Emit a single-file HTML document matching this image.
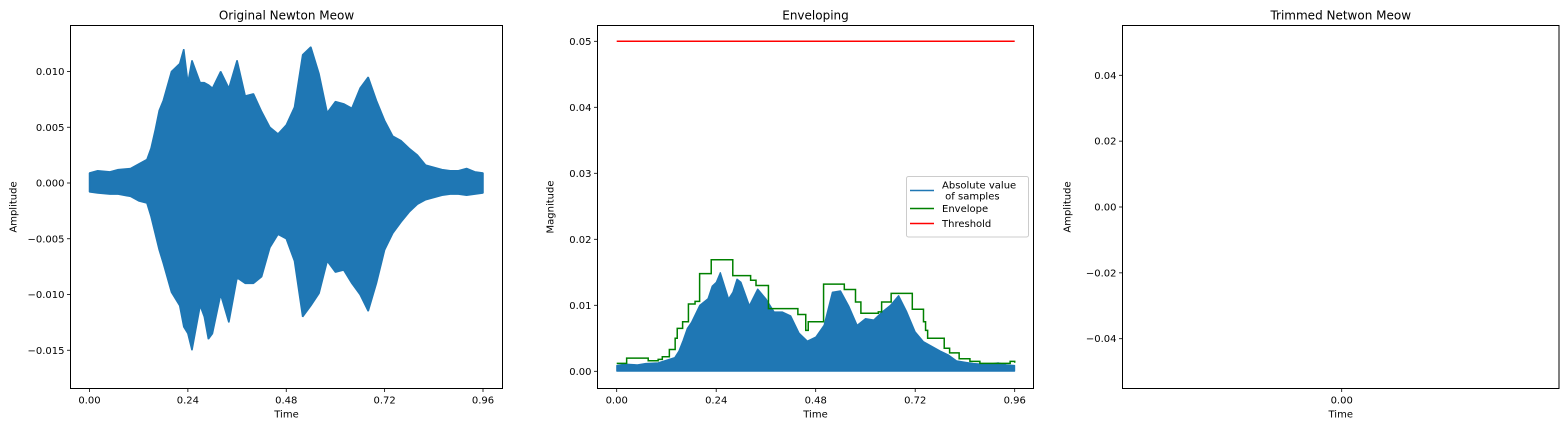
<!DOCTYPE html>
<html><head><meta charset="utf-8"><style>
html,body{margin:0;padding:0;background:#fff;}
svg{display:block;font-family:"DejaVu Sans","Liberation Sans",sans-serif;}
</style></head><body>
<svg id="fig" width="1567" height="428" viewBox="0 0 1567 428" xmlns="http://www.w3.org/2000/svg"></svg>
<script>
// ---- data ----
const waveTimes = [0,0.02,0.05,0.07,0.1,0.12,0.14,0.15,0.16,0.17,0.18,0.2,0.22,0.23,0.24,0.25,0.27,0.28,0.29,0.3,0.32,0.34,0.36,0.38,0.4,0.42,0.44,0.46,0.48,0.5,0.52,0.54,0.56,0.58,0.6,0.62,0.64,0.66,0.68,0.7,0.72,0.74,0.76,0.78,0.8,0.82,0.84,0.86,0.88,0.9,0.92,0.94,0.96];
const waveUpper = [0.9,1.1,1.0,1.2,1.3,1.7,2.1,3.1,4.7,6.5,7.4,10.0,10.7,12.0,9.0,11.0,9.0,9.0,8.8,8.5,10.0,8.5,11.0,7.8,8.0,6.4,5.0,4.4,5.2,6.8,11.5,12.2,9.8,6.3,7.3,7.1,6.7,8.5,9.5,7.4,5.6,4.2,3.8,3.1,2.5,1.6,1.4,1.2,1.1,1.1,1.3,1.0,0.9];
const waveLower = [-0.8,-0.9,-1.0,-1.0,-1.2,-1.6,-1.8,-3.0,-4.5,-6.0,-7.2,-9.8,-11.0,-12.9,-13.5,-15.0,-11.0,-12.0,-14.0,-13.5,-10.0,-12.5,-8.5,-9.0,-9.0,-8.4,-5.8,-4.6,-5.0,-7.0,-12.0,-11.0,-9.9,-7.0,-8.0,-7.8,-9.0,-10.0,-11.5,-9.0,-6.0,-4.5,-3.5,-2.6,-1.9,-1.5,-1.3,-1.1,-1.0,-1.0,-1.1,-1.0,-0.9];
const envTimes = [0,0.024,0.076,0.1,0.11,0.125,0.127,0.141,0.146,0.159,0.173,0.189,0.2,0.228,0.28,0.323,0.336,0.366,0.382,0.437,0.456,0.462,0.49,0.499,0.549,0.576,0.589,0.631,0.639,0.662,0.713,0.74,0.745,0.75,0.788,0.79,0.803,0.826,0.852,0.876,0.949,0.96];
const envVals = [1.2,2.0,1.6,1.8,2.2,2.2,3.3,5.0,6.5,7.5,10.2,10.6,14.8,16.9,14.5,13.8,13.0,9.5,9.5,8.6,6.2,7.5,7.5,13.2,12.4,10.5,8.8,9.0,10.5,11.8,9.4,7.5,6.2,5.0,5.0,3.5,2.8,1.9,1.5,1.2,1.5,1.3];
const threshold = 0.05;
const p1XTicks = [0,0.24,0.48,0.72,0.96];
const p1YTicks = [-0.015,-0.010,-0.005,0,0.005,0.010];
const p2YTicks = [0,0.01,0.02,0.03,0.04,0.05];
const p3YTicks = [-0.04,-0.02,0,0.02,0.04];

const NS="http://www.w3.org/2000/svg";
const svg=document.getElementById('fig');
function mk(tag,attrs,parent){const e=document.createElementNS(NS,tag);for(const k in attrs)e.setAttribute(k,attrs[k]);(parent||svg).appendChild(e);return e;}
function txt(s,attrs,parent){const e=mk('text',attrs,parent);e.textContent=s;return e;}
function lin(d0,d1,r0,r1){return v=>r0+(v-d0)*(r1-r0)/(d1-d0);}
function fmt(v,d){let s=Math.abs(v).toFixed(d);return (v<-1e-12?'\u2212':'')+s;}

function axes(name,L,R,T,B,title,ylab,xlab){
  const g=mk('g',{});
  
  
  const t=txt(title,{x:(L+R)/2,y:T-6,'font-size':12,'text-anchor':'middle',fill:'#000'},g);
  
  const xl=txt(xlab,{x:(L+R)/2,y:B+29,'font-size':10,'text-anchor':'middle'},g);
  
  const cy=(T+B)/2;
  const yl=txt(ylab,{x:0,y:0,'font-size':10,'text-anchor':'middle',transform:`translate(${L-ylab.length*0+ (name==='panel-original'?-54:(name==='panel-envelope'?-44:-52))},${cy}) rotate(-90)`},g);
  
  return g;
}
function frame(g,L,R,T,B){const r=mk('rect',{x:L,y:T,width:R-L,height:B-T,fill:'none',stroke:'#000','stroke-width':1},g);}
function xtick(g,x,B,label){mk('line',{x1:x,x2:x,y1:B,y2:B+3.5,stroke:'#000','stroke-width':0.8},g);const t=txt(label,{x:x,y:B+15,'font-size':10,'text-anchor':'middle'},g);}
function ytick(g,L,y,label){mk('line',{x1:L-3.5,x2:L,y1:y,y2:y,stroke:'#000','stroke-width':0.8},g);const t=txt(label,{x:L-6,y:y+3.5,'font-size':10,'text-anchor':'end'},g);}

// ---- Panel 1 ----
{
 const L=70.5,R=502.5,T=25.5,B=388.5;
 const g=axes('panel-original',L,R,T,B,'Original Newton Meow','Amplitude','Time');
 const X=lin(0,0.96,89.5,483), Y=lin(0,0.010,183,71.5);
 let pts=[];
 waveTimes.forEach((t,i)=>pts.push(X(t)+','+Y(waveUpper[i]/1000)));
 for(let i=waveTimes.length-1;i>=0;i--)pts.push(X(waveTimes[i])+','+Y(waveLower[i]/1000));
 const p=mk('polygon',{points:pts.join(' '),fill:'#1f77b4',stroke:'#1f77b4','stroke-width':1.5,'stroke-linejoin':'bevel'},g);
 
 frame(g,L,R,T,B);
 p1XTicks.forEach(v=>xtick(g,X(v),B,v.toFixed(2)));
 p1YTicks.forEach(v=>ytick(g,L,Y(v),fmt(v,3)));
}
// ---- Panel 2 ----
{
 const L=597.5,R=1033.5,T=25.5,B=388.5;
 const g=axes('panel-envelope',L,R,T,B,'Enveloping','Magnitude','Time');
 const X=lin(0,0.96,616.7,1014.7), Y=lin(0,0.01,371.3,305.3);
 let pts=[X(0)+','+Y(0)];
 waveTimes.forEach((t,i)=>pts.push(X(t)+','+Y(Math.max(waveUpper[i],-waveLower[i])/1000)));
 pts.push(X(0.96)+','+Y(0));
 const p=mk('polygon',{points:pts.join(' '),fill:'#1f77b4',stroke:'#1f77b4','stroke-width':1,'stroke-linejoin':'bevel'},g);
 
 let d='';
 envTimes.forEach((t,i)=>{const x=X(t),y=Y(envVals[i]/1000);const nx=X(i<envTimes.length-1?envTimes[i+1]:0.96);d+=(i===0?'M':'L')+x+','+y+'L'+nx+','+y;});
 const e=mk('path',{d:d,fill:'none',stroke:'#008000','stroke-width':1.5},g);
 
 const th=mk('line',{x1:X(0),x2:X(0.96),y1:Y(threshold),y2:Y(threshold),stroke:'#ff0000','stroke-width':1.5},g);
 
 frame(g,L,R,T,B);
 p1XTicks.forEach(v=>xtick(g,X(v),B,v.toFixed(2)));
 p2YTicks.forEach(v=>ytick(g,L,Y(v),v.toFixed(2)));
 const lg=mk('g',{},g);
 
 mk('rect',{x:906.5,y:176.5,width:122,height:60.5,rx:2,fill:'#fff','fill-opacity':0.8,stroke:'#ccc','stroke-width':1},lg);
 const entries=[['#1f77b4',['Absolute value',' of samples'],181],['#008000',['Envelope'],212],['#ff0000',['Threshold'],227]];
 entries.forEach(([c,lines,y],k)=>{
   const yy = k===0?190.5:y;
   const en=mk('g',{},lg);
   
   mk('line',{x1:910,x2:934,y1:k===0?190.5:y-3.5,y2:k===0?190.5:y-3.5,stroke:c,'stroke-width':1.5},en);
   lines.forEach((s,j)=>{const t=txt(s,{x:942,y:(k===0?188.5+j*11:y),'font-size':10,'xml:space':'preserve'},en);t.style.whiteSpace='pre';});
 });
}
// ---- Panel 3 ----
{
 const L=1122.5,R=1559,T=25.5,B=388.5;
 const g=axes('panel-trimmed',L,R,T,B,'Trimmed Netwon Meow','Amplitude','Time');
 const Y=lin(0,0.04,207,75.3);
 frame(g,L,R,T,B);
 xtick(g,1341.7,B,'0.00');
 p3YTicks.forEach(v=>ytick(g,L,Y(v),fmt(v,2)));
}
</script>
</body></html>
